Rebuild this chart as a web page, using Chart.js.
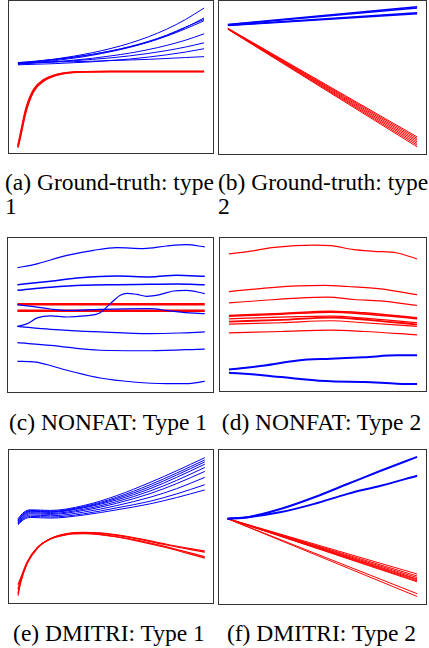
<!DOCTYPE html>
<html><head><meta charset="utf-8">
<script src="https://cdn.jsdelivr.net/npm/chart.js@4.4.0/dist/chart.umd.min.js"></script>
<style>
body{margin:0;background:#fff;width:429px;height:648px;position:relative;overflow:hidden;font-family:"Liberation Serif","Times New Roman",serif;}
.box{position:absolute;border:1px solid #333;box-sizing:border-box;background:#fff;}
.box canvas{display:block;}
.cap{position:absolute;font-size:23.5px;line-height:23.5px;color:#000;white-space:nowrap;}
</style></head><body>
<div class="box" id="ba" style="left:8px;top:0px;width:206px;height:154px"><canvas id="ca" width="204" height="152"></canvas></div>
<div class="box" id="bb" style="left:218px;top:0px;width:209px;height:155px"><canvas id="cb" width="207" height="153"></canvas></div>
<div class="box" id="bc" style="left:7px;top:237px;width:207px;height:156px"><canvas id="cc" width="205" height="154"></canvas></div>
<div class="box" id="bd" style="left:219px;top:237px;width:208px;height:155px"><canvas id="cd" width="206" height="153"></canvas></div>
<div class="box" id="be" style="left:8px;top:449px;width:206px;height:155px"><canvas id="ce" width="204" height="153"></canvas></div>
<div class="box" id="bf" style="left:218px;top:449px;width:209px;height:156px"><canvas id="cf" width="207" height="154"></canvas></div>

<div class="cap" style="left:5px;top:171px">(a) Ground-truth: type</div>
<div class="cap" style="left:5px;top:195px">1</div>
<div class="cap" style="left:218px;top:171px">(b) Ground-truth: type</div>
<div class="cap" style="left:218px;top:195px">2</div>
<div class="cap" style="left:0px;top:411px;width:216px;text-align:center">(c) NONFAT: Type 1</div>
<div class="cap" style="left:214px;top:411px;width:215px;text-align:center">(d) NONFAT: Type 2</div>
<div class="cap" style="left:0px;top:622px;width:218px;text-align:center">(e) DMITRI: Type 1</div>
<div class="cap" style="left:214px;top:622px;width:215px;text-align:center">(f) DMITRI: Type 2</div>

<script>
const BLUE = '#0000ff', RED = '#ff0000';

// ---- (a) Ground-truth type 1 ----
const tA = [0, 0.1, 0.2, 0.3, 0.4, 0.5, 0.6, 0.7, 0.8, 0.9, 1];
const aBlue1 = [59, 60.3, 61.8, 63.7, 66.0, 68.8, 72.2, 76.4, 81.5, 87.8, 95.4];
const aBlue2 = [58.5, 59.6, 60.8, 62.4, 64.3, 66.7, 69.5, 73.0, 77.3, 82.5, 88.9];
const aBlue3 = [59, 60.1, 61.4, 63.0, 64.9, 67.2, 70.0, 73.4, 77.6, 82.8, 87.9];
const aBlue4 = [59.5, 60.5, 61.7, 63.1, 64.9, 67.1, 69.7, 72.9, 76.9, 81.7, 87.0];
const aBlue5 = [58.5, 59.2, 60.0, 61.1, 62.3, 63.9, 65.7, 68.0, 70.8, 74.2, 78.4];
const aBlue6 = [59, 59.5, 60.0, 60.7, 61.6, 62.6, 63.9, 65.5, 67.4, 69.7, 72.5];
const aBlue7 = [58, 58.4, 58.8, 59.4, 60.0, 60.9, 61.8, 63.1, 64.6, 66.4, 68.6];
const aBlue8 = [59.5, 59.7, 59.9, 60.1, 60.4, 60.8, 61.2, 61.6, 62.2, 62.8, 63.4];
const tARed = [0, 0.016, 0.043, 0.085, 0.138, 0.213, 0.35, 0.5, 0.75, 1];
const aRed1 = [4.1, 13, 28, 41.2, 47.7, 51.6, 53.4, 53.6, 53.6, 53.6];
const aRed2 = [3.5, 12, 27, 40.5, 47.2, 51.3, 53.3, 53.6, 53.6, 53.6];
const aRed3 = [5.0, 14.5, 29.5, 42, 48.2, 51.9, 53.5, 53.6, 53.6, 53.6];

// ---- (b) Ground-truth type 2 ----
const tB = [0, 1];
const bBlue = [[84.6, 96.2], [84.4, 95.5], [84.2, 92.3], [84.0, 91.6]];
const bRed = [[82.2, 11.2], [82.0, 10.2], [81.9, 9.1], [81.8, 8.0], [81.7, 6.9], [81.6, 5.8], [81.5, 4.7]];

// ---- (c) NONFAT type 1 ----
const cT1 = [0, 0.088, 0.265, 0.407, 0.531, 0.673, 0.796, 0.903, 1];
const cBlue1 = [80.7, 82.7, 88.7, 92.0, 93.7, 93.1, 94.8, 95.7, 94.2];
const cT2 = [0, 0.177, 0.336, 0.531, 0.708, 0.850, 1];
const cBlue2 = [69.7, 71.9, 74.2, 75.3, 74.7, 75.8, 75.1];
const cT3 = [0, 0.177, 0.354, 0.531, 0.708, 0.850, 1];
const cBlue3 = [66.0, 68.0, 69.3, 69.7, 69.9, 70.1, 69.7];
const cT4 = [0, 0.053, 0.106, 0.177, 0.265, 0.354, 0.442, 0.496, 0.549, 0.584, 0.637, 0.690, 0.761, 0.832, 0.903, 1];
const cBlue4 = [42.6, 44.4, 48.1, 49.4, 48.7, 49.4, 51.5, 57.4, 62.8, 64.1, 63.4, 62.1, 63.2, 65.6, 66.0, 63.9];
const cT5 = [0, 0.088, 0.177, 0.265, 0.442, 0.708, 0.796, 0.903, 1];
const cBlue5 = [56.7, 55.4, 53.9, 53.0, 53.7, 54.1, 53.0, 51.5, 50.9];
const cT6 = [0, 0.177, 0.442, 0.708, 0.867, 1];
const cBlue6 = [42.6, 40.7, 39.0, 37.9, 38.3, 39.0];
const cT7 = [0, 0.177, 0.442, 0.708, 1];
const cBlue7 = [32.0, 30.3, 27.1, 26.8, 27.9];
const cT8 = [0, 0.088, 0.265, 0.442, 0.619, 0.796, 0.903, 1];
const cBlue8 = [19.9, 19.5, 14.1, 9.1, 6.5, 5.4, 5.4, 6.9];
const cTRed = [0, 1];
const cRed1 = [56.9, 56.9];
const cRed2 = [52.8, 52.8];

// ---- (d) NONFAT type 2 ----
const dT1 = [0, 0.102, 0.243, 0.454, 0.542, 0.665, 0.771, 0.894, 1];
const dRed1 = [89.6, 91.1, 93.9, 95.4, 95.0, 92.4, 91.3, 90.2, 86.3];
const dT2 = [0, 0.190, 0.366, 0.507, 0.630, 0.806, 1];
const dRed2 = [65.0, 67.2, 68.7, 69.1, 68.3, 66.7, 63.0];
const dT3 = [0, 0.190, 0.366, 0.525, 0.665, 0.806, 1];
const dRed3 = [57.6, 59.3, 60.7, 61.3, 59.8, 58.9, 55.9];
const dT4 = [0, 0.278, 0.542, 0.718, 1];
const dRed4 = [49.3, 50.7, 52.2, 51.1, 47.8];
const dRed5 = [48.9, 50.2, 51.5, 50.4, 47.2];
const dRed6 = [47.2, 48.3, 48.9, 47.6, 44.6];
const dRed7 = [45.4, 46.5, 48.0, 46.7, 43.5];
const dRed8 = [43.7, 44.6, 45.9, 44.6, 42.2];
const dRed9 = [38.0, 38.9, 39.8, 38.9, 36.7];
const dTB = [0, 0.190, 0.366, 0.542, 0.718, 0.894, 1];
const dBlue1 = [14.1, 16.7, 20.0, 21.1, 22.0, 23.3, 23.3];
const dBlue2 = [12.0, 10.2, 8.0, 6.3, 5.9, 4.8, 4.6];

// ---- (e) DMITRI type 1 ----
const tE = [0, 0.032, 0.067, 0.174, 0.352, 0.529, 0.707, 0.849, 1];
const eBlue = [
  [55.1, 59.4, 60.9, 60.5, 63.7, 70.2, 78.8, 86.4, 95.0],
  [54.4, 58.7, 60.5, 60.0, 63.1, 69.1, 77.3, 84.9, 93.5],
  [54.0, 58.3, 60.0, 59.6, 62.6, 68.3, 76.0, 83.6, 92.2],
  [53.6, 57.9, 59.6, 59.2, 62.2, 67.4, 74.7, 82.1, 90.7],
  [52.9, 57.2, 59.0, 58.5, 61.3, 66.3, 73.2, 80.1, 88.6],
  [52.5, 56.6, 58.3, 57.9, 60.5, 65.2, 71.5, 78.0, 86.0],
  [52.1, 55.9, 57.5, 57.0, 59.4, 63.7, 69.1, 74.7, 82.1],
  [51.6, 55.3, 56.6, 56.2, 58.3, 62.2, 66.5, 71.3, 77.3],
  [51.2, 54.6, 55.9, 55.5, 57.5, 60.9, 64.8, 68.9, 73.9]
];
const tERed = [0, 0.014, 0.050, 0.103, 0.174, 0.263, 0.352, 0.440, 0.618, 0.796, 1];
const eRed1 = [4.75, 13.0, 25.9, 35.6, 42.1, 45.4, 46.2, 45.8, 42.8, 38.4, 33.9];
const eRed2 = [6.5, 14.0, 26.5, 35.9, 42.0, 45.2, 45.9, 45.5, 42.4, 37.9, 33.2];
const eRed3 = [11.9, 16.2, 27.0, 36.1, 41.9, 44.9, 45.6, 44.9, 41.5, 36.7, 30.2];
const eRed4 = [9.0, 15.0, 26.7, 36.0, 41.8, 44.7, 45.3, 44.6, 41.1, 36.1, 29.3];

// ---- (f) DMITRI type 2 ----
const tF = [0, 0.108, 0.283, 0.458, 0.633, 0.808, 1];
const fBlue1 = [55.4, 56.4, 61.8, 69.3, 77.9, 86.5, 95.5];
const fBlue2 = [55.4, 56.4, 59.7, 65.0, 71.5, 76.8, 83.3];
const tFRed = [0, 1];
const fRed = [[55.4, 19.5], [55.4, 18.2], [55.4, 17.2], [55.4, 16.3], [55.4, 15.7], [55.4, 15.0], [55.4, 14.4], [55.4, 6.7], [55.4, 4.9]];

function ds(xs, ys, color, w) {
  return {
    data: xs.map((x, i) => ({x: x, y: ys[i]})),
    borderColor: color, borderWidth: w, fill: false,
    pointRadius: 0, cubicInterpolationMode: 'monotone'
  };
}
function make(id, xmin, xmax, datasets) {
  new Chart(document.getElementById(id), {
    type: 'line',
    data: {datasets: datasets},
    options: {
      responsive: false, animation: false, devicePixelRatio: 1, events: [],
      layout: {padding: 0},
      plugins: {legend: {display: false}, tooltip: {enabled: false}, title: {display: false}},
      scales: {
        x: {type: 'linear', display: false, min: xmin, max: xmax},
        y: {type: 'linear', display: false, min: 0, max: 100}
      }
    }
  });
}

make('ca', -0.048, 1.048, [
  ds(tA, aBlue1, BLUE, 1), ds(tA, aBlue2, BLUE, 1), ds(tA, aBlue3, BLUE, 1), ds(tA, aBlue4, BLUE, 1),
  ds(tA, aBlue5, BLUE, 1), ds(tA, aBlue6, BLUE, 1), ds(tA, aBlue7, BLUE, 1), ds(tA, aBlue8, BLUE, 1),
  ds(tARed, aRed1, RED, 1.5), ds(tARed, aRed2, RED, 1.5), ds(tARed, aRed3, RED, 1.5)
]);
make('cb', -0.047, 1.047, [
  ...bBlue.map(v => ds(tB, v, BLUE, 1.5)),
  ...bRed.map(v => ds(tB, v, RED, 1))
]);
make('cc', -0.05, 1.044, [
  ds(cT1, cBlue1, BLUE, 1.2), ds(cT2, cBlue2, BLUE, 1.5), ds(cT3, cBlue3, BLUE, 1.5), ds(cT4, cBlue4, BLUE, 1.2),
  ds(cT5, cBlue5, BLUE, 1.2), ds(cT6, cBlue6, BLUE, 1.2), ds(cT7, cBlue7, BLUE, 1.2), ds(cT8, cBlue8, BLUE, 1.2),
  ds(cTRed, cRed1, RED, 2.5), ds(cTRed, cRed2, RED, 2.5)
]);
make('cd', -0.0475, 1.0475, [
  ds(dT1, dRed1, RED, 1.2), ds(dT2, dRed2, RED, 1.2), ds(dT3, dRed3, RED, 1.2),
  ds(dT4, dRed4, RED, 1.5), ds(dT4, dRed5, RED, 1.5), ds(dT4, dRed6, RED, 1.2), ds(dT4, dRed7, RED, 1.8), ds(dT4, dRed8, RED, 1.2),
  ds(dT4, dRed9, RED, 1.2),
  ds(dTB, dBlue1, BLUE, 2), ds(dTB, dBlue2, BLUE, 2)
]);
make('ce', -0.048, 1.044, [
  ...eBlue.map(v => ds(tE, v, BLUE, 1)),
  ds(tERed, eRed1, RED, 1.2), ds(tERed, eRed2, RED, 1.2), ds(tERed, eRed3, RED, 1.2), ds(tERed, eRed4, RED, 1.2)
]);
make('cf', -0.045, 1.047, [
  ds(tF, fBlue1, BLUE, 2), ds(tF, fBlue2, BLUE, 2),
  ...fRed.map(v => ds(tFRed, v, RED, 1))
]);
</script>
</body></html>
